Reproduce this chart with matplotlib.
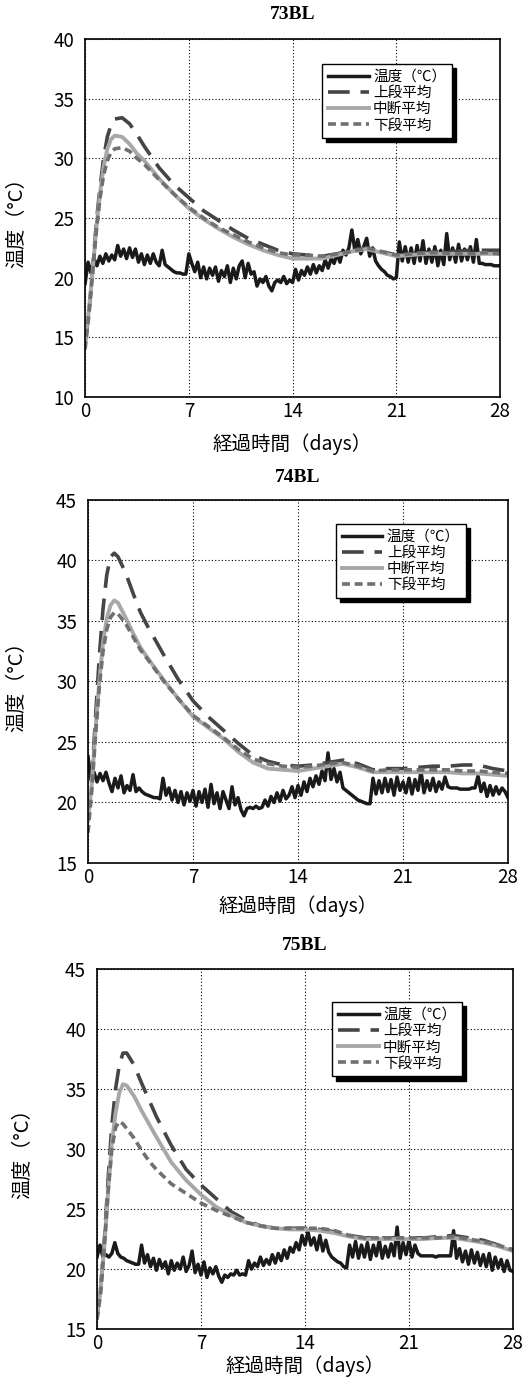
import numpy as np
import matplotlib
matplotlib.use('Agg')
import matplotlib.pyplot as plt

plt.rcParams['font.family'] = ['Noto Sans CJK JP', 'DejaVu Sans']

## 温度データ (°C) 3 ブロック: 73BL, 74BL, 75BL
titles = ['73BL', '74BL', '75BL']
labels = ['温度（℃）', '上段平均', '中断平均', '下段平均']

# 外気温 0.2 日刻み (0 - 28 日)
t_air = np.arange(0, 28.001, 0.2)
air_73 = [19.5, 21.3, 20.4, 21.6, 21.0, 21.8, 21.2, 22.0, 21.4, 21.9,
          21.5, 22.7, 21.8, 22.4, 21.6, 22.5, 21.7, 22.4, 21.3, 22.0,
          21.1, 21.9, 21.2, 22.0, 21.3, 21.0, 22.3, 21.1, 20.9, 20.7,
          20.5, 20.4, 20.4, 20.3, 20.3, 22.0, 21.2, 20.5, 21.3, 20.0,
          20.9, 19.9, 20.8, 20.2, 20.9, 19.7, 20.6, 20.1, 21.0, 19.6,
          20.8, 19.9, 21.0, 21.4, 20.0, 21.2, 20.3, 20.5, 19.3, 19.9,
          19.6, 20.1, 19.3, 18.9, 19.6, 19.8, 19.6, 20.1, 19.5, 19.8,
          19.6, 20.7, 19.8, 20.6, 20.2, 20.9, 20.3, 21.1, 20.4, 21.0,
          20.6, 21.5, 20.8, 21.6, 21.2, 22.0, 21.3, 22.3, 21.9, 22.5,
          24.0, 22.3, 23.2, 22.0, 22.6, 23.3, 21.8, 22.5, 21.4, 21.0,
          20.7, 20.5, 20.2, 20.1, 19.9, 20.0, 23.0, 21.4, 22.6, 21.3,
          22.5, 21.2, 22.7, 21.4, 23.1, 21.2, 22.4, 21.3, 22.6, 21.0,
          22.3, 21.1, 23.7, 21.5, 22.5, 21.3, 22.8, 21.4, 22.4, 21.5,
          22.6, 21.3, 23.2, 21.2, 21.2, 21.1, 21.1, 21.1, 21.0, 21.0,
          21.0]
air_74 = [23.8, 21.9, 22.5, 21.7, 22.4, 21.8, 22.5, 21.6, 20.9, 22.0,
          21.2, 22.2, 20.8, 21.4, 21.0, 22.3, 20.9, 21.2, 20.9, 20.7,
          20.6, 20.5, 20.4, 20.4, 20.3, 22.0, 20.6, 21.2, 20.2, 21.0,
          20.0, 20.9, 19.8, 20.8, 20.1, 21.0, 19.7, 20.9, 20.0, 21.1,
          19.6, 21.5, 19.9, 20.8, 19.5, 20.9, 20.2, 19.5, 21.3, 19.8,
          20.4, 19.4, 18.9, 19.5, 19.6, 19.5, 19.7, 19.5, 19.6, 20.2,
          19.7, 20.5, 20.0, 20.8, 20.1, 21.0, 20.3, 20.6, 21.3, 20.4,
          21.4, 20.6, 21.7, 20.9, 22.0, 21.3, 22.2, 21.5, 22.6, 21.8,
          24.1, 21.9, 22.8, 21.7, 22.5, 21.2, 21.0, 20.8, 20.6, 20.4,
          20.2, 20.1, 20.0, 19.9, 19.9, 22.0, 20.7, 21.8, 20.8, 22.0,
          20.9, 21.9, 20.6, 22.1, 21.0, 21.7, 20.8, 22.0, 20.7, 21.9,
          21.0, 22.6, 20.8, 21.8, 21.0, 22.0, 20.9, 21.7, 21.1, 22.1,
          21.3, 21.2, 21.2, 21.2, 21.1, 21.1, 21.1, 21.1, 21.2, 21.2,
          22.2, 20.9, 21.6, 20.5, 21.4, 20.6, 21.3, 20.7, 21.2, 20.9,
          20.4]
air_75 = [21.0, 22.0, 21.0, 21.2, 21.0, 21.3, 22.2, 21.3, 21.0, 20.9,
          20.7, 20.6, 20.5, 20.4, 20.4, 22.0, 20.5, 21.2, 20.2, 20.9,
          19.9, 20.8, 20.1, 20.6, 19.6, 20.7, 19.9, 20.5, 20.0, 21.0,
          19.8, 20.3, 21.5, 19.7, 20.4, 19.5, 20.6, 19.3, 20.1, 19.6,
          20.2, 19.4, 18.9, 19.5, 19.3, 19.6, 19.5, 19.9, 19.5, 19.6,
          19.5, 20.7, 20.0, 20.5, 20.2, 21.0, 20.3, 20.8, 20.4, 21.2,
          20.5, 21.3, 20.7, 21.6, 20.9, 21.8, 21.4, 22.2, 21.6, 22.8,
          22.0, 23.1, 22.0, 22.6, 21.6, 22.8, 21.5, 22.4, 21.4, 21.0,
          20.8, 20.6, 20.5, 20.2, 20.1, 22.0, 21.0, 22.3, 20.9, 22.0,
          21.0, 22.2, 20.8, 22.0, 21.1, 22.4, 20.9, 21.9, 21.0, 22.1,
          21.1, 23.5, 20.9, 22.2, 21.2, 22.4, 21.0, 22.0, 21.3, 21.1,
          21.1, 21.1, 21.1, 21.1, 21.0, 21.1, 21.1, 21.1, 21.1, 21.1,
          23.2, 20.9, 21.7, 20.6, 21.5, 20.4, 21.6, 20.5, 21.4, 20.3,
          21.2, 20.2, 21.3, 19.9, 21.0, 20.1, 20.8, 19.8, 20.7, 19.9,
          19.8]

# 平均温度 (日)
t_avg = [0, 0.25, 0.5, 0.75, 1, 1.25, 1.5, 1.75, 2, 2.5, 3, 3.5, 4, 5, 6, 7, 8, 9,
         10, 11, 12, 13, 14, 15, 16, 17, 18, 19, 20, 21, 22, 23, 24, 25, 26, 27, 28]

up_73 = [14.5, 17.0, 20.5, 24.5, 27.5, 30.0, 31.8, 32.8, 33.3, 33.4, 32.9, 32.0, 31.0,
         29.2, 27.8, 26.7, 25.6, 24.8, 24.0, 23.3, 22.8, 22.3, 22.0, 21.9, 21.8, 22.0,
         22.3, 22.5, 22.2, 21.9, 22.0, 22.1, 22.2, 22.2, 22.3, 22.3, 22.3]
mid_73 = [14.8, 17.2, 20.5, 24.0, 27.0, 29.3, 30.8, 31.6, 31.9, 31.8, 31.2, 30.4, 29.8,
          28.3, 27.0, 25.8, 24.9, 24.1, 23.4, 22.8, 22.3, 21.9, 21.6, 21.6, 21.6, 21.9,
          22.2, 22.4, 22.1, 21.8, 21.9, 22.0, 22.0, 22.0, 22.0, 22.0, 22.0]
low_73 = [14.0, 16.8, 20.3, 23.8, 26.6, 28.6, 29.8, 30.5, 30.8, 30.9, 30.6, 30.0, 29.5,
          28.2, 27.0, 25.9, 25.0, 24.2, 23.6, 23.0, 22.5, 22.1, 21.9, 21.9, 21.8, 22.0,
          22.2, 22.5, 22.2, 21.9, 22.0, 22.1, 22.1, 22.0, 22.0, 22.1, 22.0]

up_74 = [19.0, 22.0, 27.0, 32.0, 36.0, 38.8, 40.3, 40.6, 40.3, 39.0, 37.3, 35.7, 34.5,
         32.3, 30.2, 28.4, 27.1, 26.0, 24.9, 23.9, 23.4, 23.1, 23.0, 23.1, 23.3, 23.5,
         23.2, 22.7, 22.8, 22.8, 22.9, 23.0, 23.0, 23.1, 23.1, 22.8, 22.6]
mid_74 = [18.5, 21.5, 26.0, 30.0, 33.2, 35.2, 36.3, 36.7, 36.5, 35.3, 34.0, 32.8, 31.9,
          30.2, 28.6, 27.1, 26.2, 25.3, 24.2, 23.3, 22.8, 22.7, 22.6, 22.8, 23.0, 23.2,
          22.9, 22.5, 22.5, 22.5, 22.5, 22.5, 22.5, 22.4, 22.4, 22.3, 22.2]
low_74 = [17.5, 21.0, 25.5, 29.5, 32.5, 34.3, 35.3, 35.7, 35.6, 34.8, 33.7, 32.6, 31.8,
          30.1, 28.6, 27.2, 26.3, 25.4, 24.4, 23.6, 23.2, 23.0, 22.9, 23.0, 23.2, 23.3,
          23.0, 22.6, 22.7, 22.7, 22.7, 22.7, 22.7, 22.6, 22.6, 22.5, 22.4]

up_75 = [16.0, 18.5, 22.5, 27.5, 32.0, 35.0, 37.0, 38.0, 38.0, 37.0, 35.5, 34.1, 32.7,
         30.3, 28.3, 27.0, 25.9, 24.8, 24.1, 23.6, 23.4, 23.4, 23.4, 23.3, 23.1, 22.8,
         22.6, 22.6, 22.6, 22.6, 22.6, 22.7, 22.8, 22.6, 22.4, 22.0, 21.6]
mid_75 = [16.0, 18.5, 22.0, 26.5, 30.5, 33.0, 34.7, 35.4, 35.3, 34.4, 33.2, 32.1, 31.0,
          28.9, 27.4, 26.2, 25.2, 24.5, 23.9, 23.6, 23.4, 23.3, 23.3, 23.2, 23.0, 22.7,
          22.5, 22.5, 22.5, 22.5, 22.5, 22.6, 22.6, 22.4, 22.2, 21.9, 21.5]
low_75 = [15.8, 18.0, 22.0, 26.5, 30.0, 31.8, 32.3, 32.1, 31.7, 30.9, 29.9, 29.0, 28.3,
          27.1, 26.3, 25.5, 24.9, 24.4, 23.9, 23.6, 23.4, 23.4, 23.4, 23.4, 23.2, 22.8,
          22.6, 22.6, 22.6, 22.6, 22.6, 22.6, 22.7, 22.5, 22.3, 22.0, 21.6]

air = [air_73, air_74, air_75]
up = [up_73, up_74, up_75]
mid = [mid_73, mid_74, mid_75]
low = [low_73, low_74, low_75]
ylims = [(10, 40), (15, 45), (15, 45)]

# レイアウト (figure 座標)
rects = [[0.163, 0.7129, 0.795, 0.2589],
         [0.1686, 0.376, 0.8046, 0.2625],
         [0.1858, 0.039, 0.797, 0.2603]]
title_y = [0.9892, 0.6544, 0.3167]
leg_pos = [(0.571, 0.93), (0.590, 0.934), (0.565, 0.908)]
ylab_x = [-0.14, -0.145, -0.154]
xlab_y = [-0.10, -0.088, -0.073]

fig = plt.figure(figsize=(5.22, 13.83), dpi=100)

for i in range(3):
    ax = fig.add_axes(rects[i])
    ax.plot(t_air, air[i], color='#1a1a1a', lw=2.5, label=labels[0])
    ax.plot(t_avg, up[i], color='#454545', lw=2.6, dashes=(6, 3), label=labels[1])
    ax.plot(t_avg, mid[i], color='#a8a8a8', lw=2.8, label=labels[2])
    ax.plot(t_avg, low[i], color='#707070', lw=2.6, dashes=(2.2, 1.3), label=labels[3])

    ax.set_xlim(0, 28)
    ax.set_ylim(*ylims[i])
    ax.set_xticks([0, 7, 14, 21, 28])
    ax.set_yticks(np.arange(ylims[i][0], ylims[i][1] + 1, 5))
    ax.tick_params(length=0, labelsize=13.5, pad=3)
    ax.tick_params(axis='y', pad=8)
    ax.grid(True, color='black', ls=(0, (1, 2)), lw=0.8)
    for s in ax.spines.values():
        s.set_linewidth(1.2)

    ax.set_ylabel('温度（°C）', fontsize=14.5)
    ax.yaxis.set_label_coords(ylab_x[i], 0.5)
    ax.set_xlabel('経過時間（days）', fontsize=14)
    ax.xaxis.set_label_coords(0.5, xlab_y[i])

    leg = ax.legend(loc='upper left', bbox_to_anchor=leg_pos[i], borderaxespad=0,
                    fontsize=10.5, handlelength=2.8, handletextpad=0.3,
                    labelspacing=0.15, borderpad=0.4, fancybox=False,
                    framealpha=1, edgecolor='black',
                    shadow={'color': 'black', 'alpha': 1, 'ox': 3, 'oy': -3})
    leg.get_frame().set_linewidth(1.0)

    x0, w = rects[i][0], rects[i][2]
    fig.text(x0 + w / 2, title_y[i], titles[i], ha='center', va='center',
             fontsize=14, fontweight='bold', family='Liberation Serif')

fig.savefig('out.png', dpi=100)
